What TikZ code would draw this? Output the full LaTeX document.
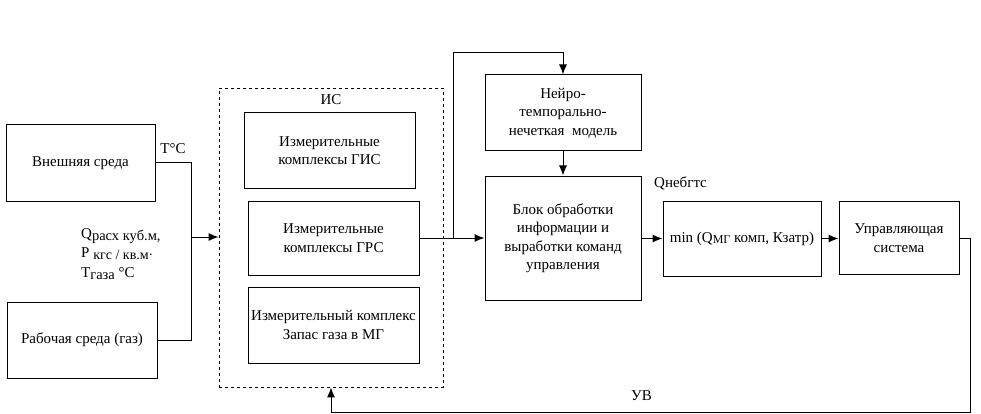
\documentclass[tikz,border=0pt]{standalone}
\usepackage{fontspec}
\setmainfont{Liberation Serif}
\usetikzlibrary{arrows.meta}
\begin{document}
\begin{tikzpicture}[x=1pt,y=-1pt,
  every node/.style={font=\fontsize{15}{18.5}\selectfont, inner sep=0pt},
  blk/.style={draw, line width=1pt, align=center},
  lbl/.style={align=left},
  conn/.style={line width=1pt},
  arr/.style={conn, -{Latex[length=10pt,width=8pt]}}]
\useasboundingbox (0,0) rectangle (981,414);
% left boxes
\node[blk, minimum width=149, minimum height=76] (ext) at (80.5,163) {Внешняя среда};
\node[blk, minimum width=150, minimum height=76] (rab) at (82,340) {Рабочая среда (газ)};
\node[lbl] (tc) at (173,149) {T°C};
\node[lbl, anchor=north west] (qpt) at (81,228) {Q\raisebox{-2pt}{\fontsize{14.5}{15}\selectfont расх куб.м,}\\[1pt]
P \raisebox{-2pt}{\fontsize{14}{15}\selectfont кгс / кв.м·}\\[1pt]
T\raisebox{-2pt}{\fontsize{14.5}{15}\selectfont газа} °C};
% IS group
\node[draw, dashed, line width=0.8pt, minimum width=224, minimum height=299] (is) at (331,237.5) {};
\node (islbl) at (331,100) {ИС};
\node[blk, minimum width=171, minimum height=75] (gis) at (329.5,150.5) {Измерительные\\комплексы ГИС};
\node[blk, minimum width=171, minimum height=74] (grs) at (333.5,238) {Измерительные\\комплексы ГРС};
\node[blk, minimum width=171, minimum height=76] (zap) at (333.5,325) {Измерительный комплекс\\Запас газа в МГ};
% right part
\node[blk, minimum width=156, minimum height=76] (neuro) at (563,113) {Нейро-\\темпорально-\\нечеткая\ \ модель};
\node[blk, minimum width=156, minimum height=124] (blok) at (563,238) {Блок обработки\\информации и\\выработки команд\\управления};
\node[blk, minimum width=158, minimum height=75] (mn) at (742,238.5) {min (Q\raisebox{-1pt}{\fontsize{12}{14}\selectfont МГ} комп, Кзатр)};
\node[blk, minimum width=120, minimum height=73] (upr) at (899,238) {Управляющая\\система};
\node[lbl, anchor=west] (qneb) at (654,183) {Qнебгтс};
\node[lbl, anchor=west] (uv) at (631,396) {УВ};
% connectors
\coordinate (j) at (191,237);
\coordinate (b) at (453,238);
\coordinate (t) at (453,53);
\coordinate (fb) at (970,412);
\draw[conn] (ext.east) -| (j);
\draw[conn] (rab.east) -| (j);
\draw[arr] (j) -- (is.west |- j);
\draw[arr] (grs.east) -- (blok.west);
\draw[arr] (b) -- (t) -| (neuro.north);
\draw[arr] (neuro.south) -- (blok.north);
\draw[arr] (blok.east |- mn.west) -- (mn.west);
\draw[arr] (mn.east) -- (upr.west |- mn.east);
\draw[arr] (upr.east) -| (fb) -| (is.south);
\end{tikzpicture}
\end{document}
